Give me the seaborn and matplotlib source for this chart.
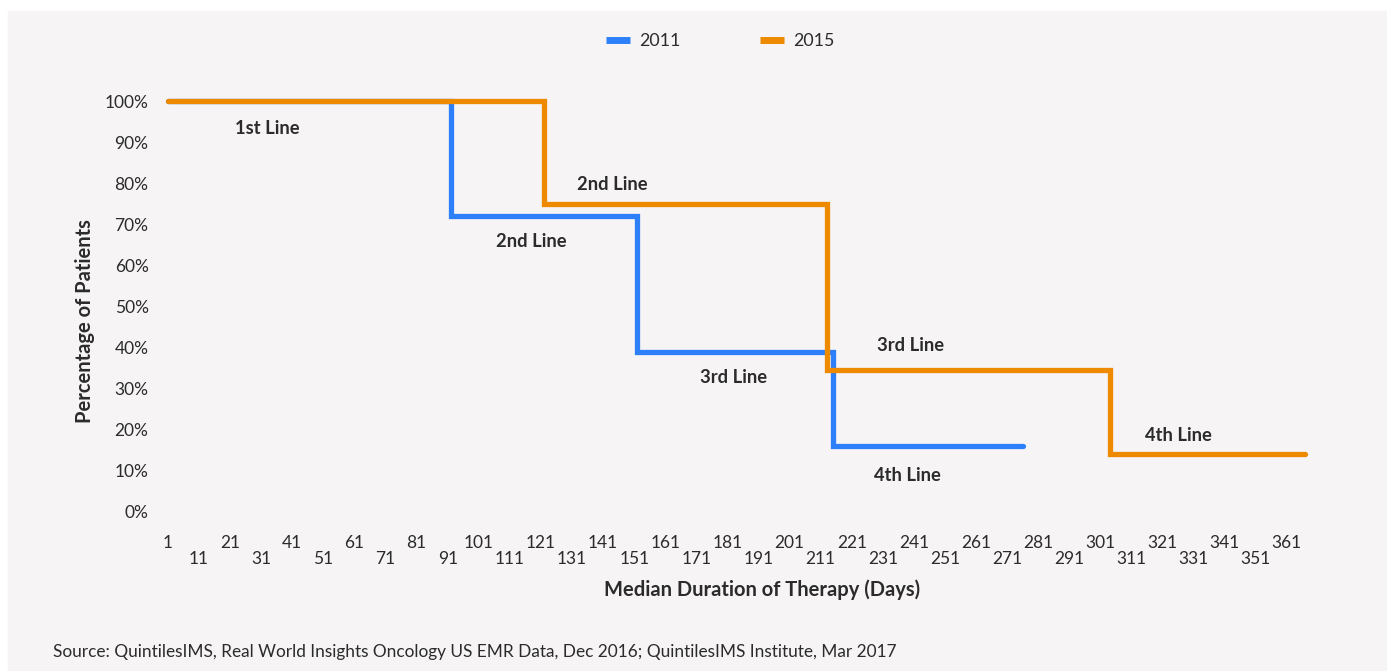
import matplotlib.pyplot as plt
import matplotlib.patches as mpatches
import pandas as pd
import seaborn as sns

# step data: day where each therapy line starts, % of patients still on therapy
days_2011 = [1, 92, 152, 215, 276]
pct_2011 = [100, 72, 39, 16, 16]
days_2015 = [1, 122, 213, 304, 367]
pct_2015 = [100, 75, 34.5, 14, 14]

line_labels = [
    ("1st Line", 33, 93.4),
    ("2nd Line", 144, 79.6),
    ("2nd Line", 118, 65.9),
    ("3rd Line", 240, 40.6),
    ("3rd Line", 183, 32.8),
    ("4th Line", 239, 9.0),
    ("4th Line", 326, 18.7),
]

x_ticks = list(range(1, 362, 10))
y_ticks = list(range(0, 101, 10))

BG = "#f6f4f5"
TXT = "#2b2b2b"
BLUE = "#2e80fa"
ORANGE = "#ed8a00"

sns.set_theme(style="white")
plt.rcParams["font.family"] = ["Lato", "DejaVu Sans"]

df = pd.concat([
    pd.DataFrame({"day": days_2011, "pct": pct_2011, "year": "2011"}),
    pd.DataFrame({"day": days_2015, "pct": pct_2015, "year": "2015"}),
])

fig = plt.figure(figsize=(13.87, 6.71), dpi=100)
fig.patch.set_facecolor("white")
fig.patches.append(mpatches.Rectangle((8 / 1387, 0), 1, 1 - 11 / 671,
                                      transform=fig.transFigure,
                                      color=BG, zorder=-10))

ax = fig.add_axes([168 / 1387, (671 - 512) / 671, 1137.5 / 1387, 411 / 671])
ax.set_facecolor("none")

sns.lineplot(data=df, x="day", y="pct", hue="year",
             palette={"2011": BLUE, "2015": ORANGE},
             drawstyle="steps-post", linewidth=3.8,
             solid_capstyle="round", solid_joinstyle="miter",
             legend=False, ax=ax, clip_on=False)

ax.set_xlim(1, 367)
ax.set_ylim(0, 100)
for s in ax.spines.values():
    s.set_visible(False)

ax.set_yticks(y_ticks)
ax.set_yticklabels([f"{v}%" for v in y_ticks])
ax.tick_params(axis="y", length=0, pad=14, labelsize=12.5, labelcolor=TXT)

upper = x_ticks[0::2]
lower = x_ticks[1::2]
ax.set_xticks(upper)
ax.set_xticklabels([str(v) for v in upper])
ax.set_xticks(lower, minor=True)
ax.set_xticklabels([str(v) for v in lower], minor=True)
ax.tick_params(axis="x", which="major", length=0, pad=16.5, labelsize=12.5, labelcolor=TXT)
ax.tick_params(axis="x", which="minor", length=0, pad=28, labelsize=12.5, labelcolor=TXT)

ax.set_xlabel("")
ax.set_ylabel("")
fig.text(762 / 1387, 1 - 590 / 671, "Median Duration of Therapy (Days)",
         ha="center", va="center", fontsize=14.5, fontweight="bold", color=TXT)
fig.text(85 / 1387, 1 - 321 / 671, "Percentage of Patients", rotation=90,
         ha="center", va="center", fontsize=14.5, fontweight="bold", color=TXT)

for text, x, y in line_labels:
    ax.text(x, y, text, ha="center", va="center", fontsize=13.2,
            fontweight="bold", color=TXT)

handles = [plt.Line2D([], [], color=BLUE, linewidth=5, solid_capstyle="butt"),
           plt.Line2D([], [], color=ORANGE, linewidth=5, solid_capstyle="butt")]
fig.legend(handles, ["2011", "2015"], loc="center", ncol=2,
           bbox_to_anchor=(720 / 1387, 1 - 41 / 671), frameon=False,
           fontsize=12.8, handlelength=1.35, handletextpad=0.5,
           columnspacing=4.5, labelcolor=TXT)

fig.text(53 / 1387, 1 - 652 / 671,
         "Source: QuintilesIMS, Real World Insights Oncology US EMR Data, Dec 2016; "
         "QuintilesIMS Institute, Mar 2017",
         ha="left", va="center", fontsize=12.4, color=TXT)

fig.savefig("out.png", dpi=100, facecolor=fig.get_facecolor())
